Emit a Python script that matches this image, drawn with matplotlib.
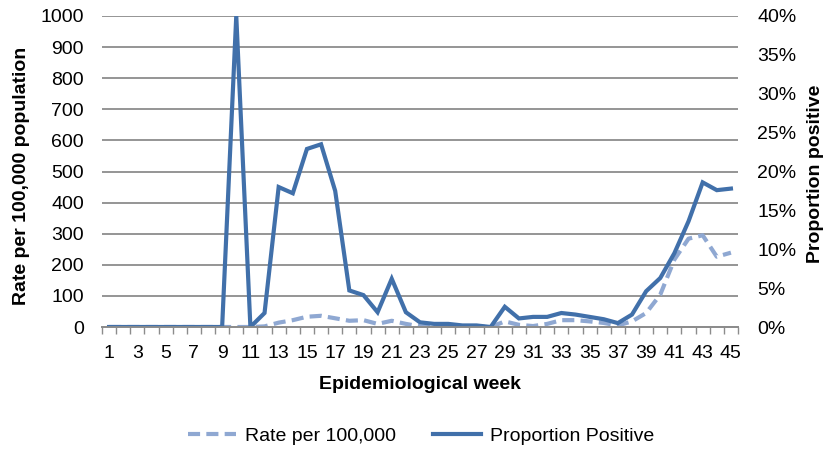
import numpy as np
import matplotlib.pyplot as plt
from matplotlib.ticker import FuncFormatter, MultipleLocator

plt.rcParams["font.family"] = ["Liberation Sans", "DejaVu Sans"]

weeks = list(range(1, 46))
# rate per 100,000 population (left axis)
rate = [0, 0, 0, 0, 0, 0, 0, 0, 0, 0,
        0, 2, 14, 22, 33, 36, 28, 20, 22, 10,
        20, 10, 2, 1, 1, 1, 1, 0, 18, 7,
        3, 10, 22, 22, 18, 13, 5, 18, 45, 104,
        217, 284, 295, 226, 239]
# proportion positive, percent (right axis)
prop_pos = [0, 0, 0, 0, 0, 0, 0, 0, 0, 40,
            0, 1.8, 18.0, 17.2, 22.9, 23.5, 17.5, 4.7, 4.1, 1.9,
            6.2, 1.9, 0.6, 0.4, 0.4, 0.2, 0.2, 0.0, 2.6, 1.1,
            1.3, 1.3, 1.8, 1.6, 1.3, 1.0, 0.5, 1.6, 4.6, 6.3,
            9.5, 13.6, 18.6, 17.6, 17.8]

solid_col = "#4170aa"
dash_col = "#8fa8d2"
grid_col = "#8c8c8c"
fs = 14

fig = plt.figure(figsize=(8.28, 4.51), dpi=100)
ax = fig.add_axes([102 / 828, 1 - 327 / 451, 636 / 828, 311 / 451])
ax2 = ax.twinx()

ax.plot(weeks, rate, color=dash_col, lw=3, linestyle=(0, (2.9, 1.5)),
        label="Rate per 100,000")
ax2.plot(weeks, prop_pos, color=solid_col, lw=3, solid_joinstyle="miter",
         label="Proportion Positive")

ax.set_xlim(0.5, 45.5)
ax.set_ylim(0, 1000)
ax2.set_ylim(0, 40)
ax.yaxis.set_major_locator(MultipleLocator(100))
ax2.yaxis.set_major_locator(MultipleLocator(5))
ax2.yaxis.set_major_formatter(FuncFormatter(lambda v, p: f"{v:.0f}%"))

ax.grid(axis="y", color=grid_col, lw=1.3)
ax.set_axisbelow(True)
ax.set_xticks(weeks[::2])
ax.set_xticks(np.arange(0.5, 46, 1), minor=True)
ax.tick_params(axis="x", which="major", length=0, pad=13, labelsize=fs)
ax.tick_params(axis="x", which="minor", length=5, color=grid_col, width=1)
ax.tick_params(axis="y", length=0, pad=13, labelsize=fs)
ax2.tick_params(axis="y", length=0, pad=14, labelsize=fs)

for a in (ax, ax2):
    for s in ("top", "left", "right"):
        a.spines[s].set_visible(False)
    a.spines["bottom"].set_color(grid_col)
    a.spines["bottom"].set_linewidth(1.3)

ax.set_xlabel("Epidemiological week", fontsize=fs, fontweight="bold")
ax.xaxis.set_label_coords(0.5, -0.158)
ax.set_ylabel("Rate per 100,000 population", fontsize=fs, fontweight="bold")
ax.yaxis.set_label_coords(-0.113, 0.486)
ax2.set_ylabel("Proportion positive", fontsize=fs, fontweight="bold")
ax2.yaxis.set_label_coords(1.108, 0.494)

h1, l1 = ax.get_legend_handles_labels()
h2, l2 = ax2.get_legend_handles_labels()
fig.legend(h1 + h2, l1 + l2, loc="center", bbox_to_anchor=(421 / 828, 1 - 436 / 451),
           ncol=2, frameon=False, fontsize=fs, handlelength=2.5,
           handletextpad=0.45, columnspacing=1.9)

fig.savefig("out.png", dpi=100)
